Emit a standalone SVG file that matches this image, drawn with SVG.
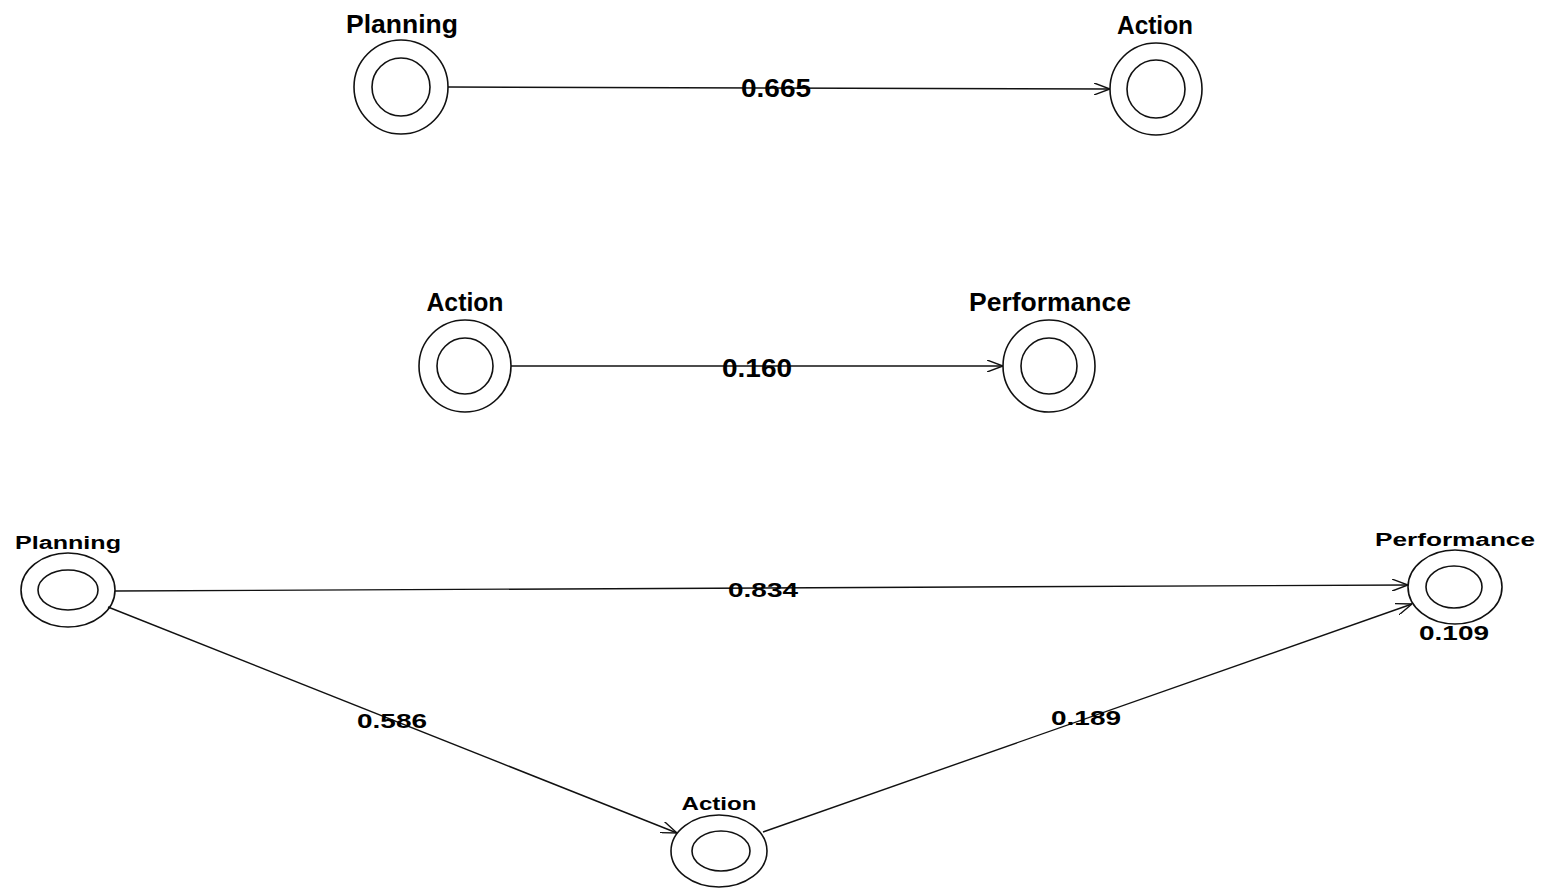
<svg xmlns="http://www.w3.org/2000/svg" width="1549" height="890" viewBox="0 0 1549 890">
<style>
.ring{fill:none;stroke:#111;stroke-width:1.6}
.edge{fill:none;stroke:#111;stroke-width:1.4}
.lbl{font-family:"Liberation Sans",Arial,sans-serif;font-weight:bold;fill:#000;text-anchor:middle}
</style>
<defs>
<marker id="arr" viewBox="0 0 16 12" refX="16" refY="6" markerWidth="16" markerHeight="12" markerUnits="userSpaceOnUse" orient="auto">
<path d="M0,0 L16,6 L0,12" fill="none" stroke="#111" stroke-width="1.4"/>
</marker>
</defs>
<rect width="1549" height="890" fill="#fff"/>
<g id="connectors">
<line class="edge" x1="448" y1="87" x2="1110" y2="89" marker-end="url(#arr)"/>
<line class="edge" x1="511" y1="366" x2="1003" y2="366" marker-end="url(#arr)"/>
<line class="edge" x1="115" y1="591" x2="1408" y2="585" marker-end="url(#arr)"/>
<line class="edge" x1="108" y1="607" x2="677" y2="833" marker-end="url(#arr)"/>
<line class="edge" x1="763" y1="832" x2="1412" y2="604" marker-end="url(#arr)"/>
<text class="lbl" x="776" y="97" font-size="25" textLength="70" lengthAdjust="spacingAndGlyphs">0.665</text>
<text class="lbl" x="757" y="377" font-size="25" textLength="70" lengthAdjust="spacingAndGlyphs">0.160</text>
<text class="lbl" x="763" y="597" font-size="21" textLength="70" lengthAdjust="spacingAndGlyphs">0.834</text>
<text class="lbl" x="392" y="728" font-size="21" textLength="70" lengthAdjust="spacingAndGlyphs">0.586</text>
<text class="lbl" x="1086" y="725" font-size="21" textLength="70" lengthAdjust="spacingAndGlyphs">0.189</text>
</g>
<g id="planning1">
<circle class="ring" cx="401" cy="87" r="47"/>
<circle class="ring" cx="401" cy="87" r="29"/>
<text class="lbl" x="402" y="33" font-size="25" textLength="112" lengthAdjust="spacingAndGlyphs">Planning</text>
</g>
<g id="action1">
<circle class="ring" cx="1156" cy="89" r="46"/>
<circle class="ring" cx="1156" cy="89" r="29"/>
<text class="lbl" x="1155" y="34" font-size="25" textLength="76" lengthAdjust="spacingAndGlyphs">Action</text>
</g>
<g id="action2">
<circle class="ring" cx="465" cy="366" r="46"/>
<circle class="ring" cx="465" cy="366" r="28"/>
<text class="lbl" x="465" y="311" font-size="25" textLength="77" lengthAdjust="spacingAndGlyphs">Action</text>
</g>
<g id="performance2">
<circle class="ring" cx="1049" cy="366" r="46"/>
<circle class="ring" cx="1049" cy="366" r="28"/>
<text class="lbl" x="1050" y="311" font-size="25" textLength="162" lengthAdjust="spacingAndGlyphs">Performance</text>
</g>
<g id="planning3">
<ellipse class="ring" cx="68" cy="590" rx="47" ry="37"/>
<ellipse class="ring" cx="68" cy="590" rx="30" ry="20"/>
<text class="lbl" x="68" y="549" font-size="18" textLength="106" lengthAdjust="spacingAndGlyphs">Planning</text>
</g>
<g id="performance3">
<ellipse class="ring" cx="1455" cy="587" rx="47" ry="37"/>
<ellipse class="ring" cx="1454" cy="587" rx="28" ry="21"/>
<text class="lbl" x="1455" y="546" font-size="18" textLength="160" lengthAdjust="spacingAndGlyphs">Performance</text>
<text class="lbl" x="1454" y="640" font-size="21" textLength="70" lengthAdjust="spacingAndGlyphs">0.109</text>
</g>
<g id="action3">
<ellipse class="ring" cx="719" cy="851" rx="48" ry="36"/>
<ellipse class="ring" cx="721" cy="851" rx="29" ry="20"/>
<text class="lbl" x="719" y="810" font-size="18" textLength="75" lengthAdjust="spacingAndGlyphs">Action</text>
</g>
</svg>
